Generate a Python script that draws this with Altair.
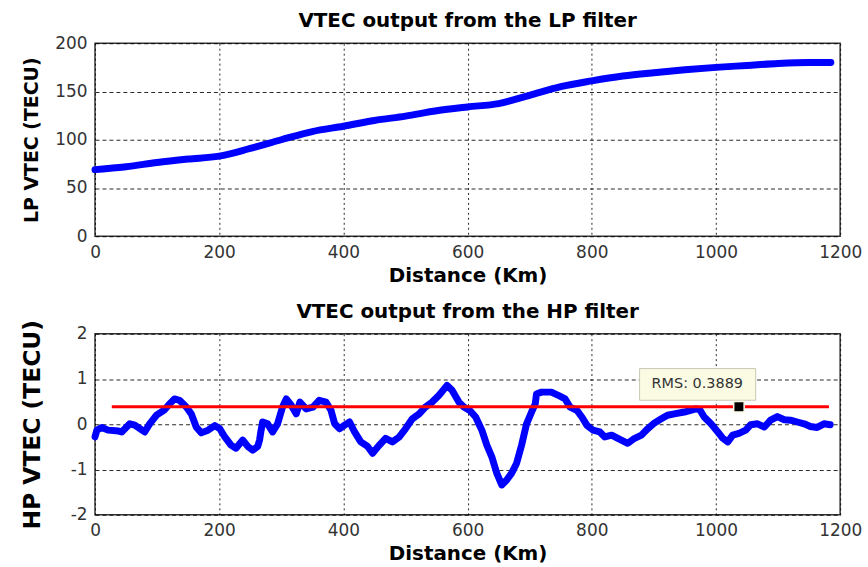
import altair as alt
import pandas as pd

# ---- data -------------------------------------------------------------
# Low-pass filtered VTEC along the track
lp_km = [0, 25, 50, 100, 150, 200, 250, 300, 350, 400, 450, 500, 550, 600,
         650, 700, 750, 800, 850, 900, 950, 1000, 1050, 1100, 1150, 1185]
lp_vtec = [69, 70.5, 72, 76.5, 80, 83, 91, 100, 108.5, 114, 120, 124.5, 130, 134,
           137.5, 146, 155, 161, 166, 169.5, 172.5, 175, 177, 179, 180, 180]

# High-pass filtered VTEC along the track
hp_km = [0, 3, 11, 21, 38, 43, 56, 64, 80, 88, 99, 112, 120, 128, 136, 147, 155,
         163, 171, 182, 193, 201, 209, 219, 227, 238, 246, 254, 262, 265, 267, 270,
         278, 286, 294, 302, 308, 316, 324, 330, 340, 351, 361, 372, 380, 386, 394,
         402, 410, 418, 428, 439, 447, 458, 468, 479, 490, 500, 511, 522, 532, 543,
         554, 567, 575, 586, 594, 604, 613, 623, 631, 639, 647, 655, 663, 671, 679,
         687, 695, 703, 709, 711, 719, 735, 746, 757, 765, 776, 784, 792, 802, 813,
         821, 832, 842, 858, 869, 880, 890, 901, 912, 922, 933, 949, 968, 974, 981,
         992, 1003, 1011, 1019, 1027, 1037, 1048, 1056, 1067, 1078, 1088, 1099, 1110,
         1120, 1131, 1142, 1152, 1163, 1174, 1184]
hp_vtec = [-0.28, -0.13, -0.07, -0.13, -0.15, -0.17, 0.01, -0.02, -0.17, 0.01, 0.2,
           0.32, 0.45, 0.56, 0.53, 0.38, 0.23, -0.06, -0.19, -0.13, -0.03, -0.1,
           -0.28, -0.46, -0.53, -0.35, -0.49, -0.57, -0.49, -0.35, -0.17, 0.05, 0.01,
           -0.17, 0.01, 0.38, 0.56, 0.42, 0.23, 0.49, 0.34, 0.38, 0.53, 0.49, 0.31,
           0.01, -0.1, -0.02, 0.05, -0.17, -0.39, -0.49, -0.64, -0.46, -0.31, -0.39,
           -0.28, -0.1, 0.12, 0.23, 0.38, 0.49, 0.64, 0.86, 0.75, 0.49, 0.38, 0.3,
           0.16, -0.13, -0.46, -0.72, -1.08, -1.34, -1.23, -1.08, -0.86, -0.46, 0.01,
           0.27, 0.45, 0.67, 0.71, 0.71, 0.64, 0.56, 0.38, 0.31, 0.16, -0.02, -0.13,
           -0.17, -0.28, -0.24, -0.31, -0.42, -0.31, -0.24, -0.1, 0.03, 0.12, 0.2,
           0.23, 0.27, 0.34, 0.32, 0.16, 0.01, -0.17, -0.31, -0.39, -0.24, -0.2,
           -0.13, -0.01, 0.01, -0.06, 0.09, 0.17, 0.1, 0.09, 0.05, 0.01, -0.05,
           -0.07, 0.01, -0.01]

# RMS reference line and its data tip
rms_value = 0.3889
rms_span_km = [27, 1182]
tip_km = 1037
tip_box_km = [877, 1064]
tip_box_vtec = [0.53, 1.23]
tip_text_pos = [970, 0.88]

x_ticks = [0, 200, 400, 600, 800, 1000, 1200]
lp_ticks = [0, 50, 100, 150, 200]
hp_ticks = [-2, -1, 0, 1, 2]

BLUE = "#0000ff"
RED = "#ff0000"
FONT = "DejaVu Sans"
W = 749

lp_df = pd.DataFrame({"km": lp_km, "vtec": lp_vtec})
hp_df = pd.DataFrame({"km": hp_km, "vtec": hp_vtec})
rms_df = pd.DataFrame({"km": [rms_span_km[0]], "km2": [rms_span_km[1]], "vtec": [rms_value]})
tip_df = pd.DataFrame({"km": [tip_km], "vtec": [rms_value]})
box_df = pd.DataFrame({"km": [tip_box_km[0]], "km2": [tip_box_km[1]],
                       "vtec": [tip_box_vtec[0]], "vtec2": [tip_box_vtec[1]]})
label_df = pd.DataFrame({"km": [tip_text_pos[0]], "vtec": [tip_text_pos[1]],
                         "text": [f"RMS: {rms_value}"]})

x_scale = alt.Scale(domain=[0, 1200], nice=False, zero=False)


def x_axis():
    return alt.X("km:Q", scale=x_scale,
                 axis=alt.Axis(values=x_ticks, title="Distance (Km)", format="d",
                               labelFlush=False))


def panel_title(text, offset):
    return alt.TitleParams(text, font=FONT, fontSize=20, fontWeight="bold",
                           offset=offset, anchor="middle", color="black")


# ---- LP panel ---------------------------------------------------------
lp_chart = alt.Chart(lp_df).mark_line(
    color=BLUE, strokeWidth=7, strokeCap="round", strokeJoin="round", interpolate="monotone"
).encode(
    x=x_axis(),
    y=alt.Y("vtec:Q", scale=alt.Scale(domain=[0, 200], nice=False),
            axis=alt.Axis(values=lp_ticks, title="LP VTEC (TECU)", titleFontSize=19,
                          titlePadding=13)),
).properties(width=W, height=194,
             title=panel_title("VTEC output from the LP filter", 3))

# ---- HP panel ---------------------------------------------------------
hp_y = alt.Scale(domain=[-2, 2], nice=False)

hp_line = alt.Chart(hp_df).mark_line(
    color=BLUE, strokeWidth=7, strokeCap="round", strokeJoin="round"
).encode(
    x=x_axis(),
    y=alt.Y("vtec:Q", scale=hp_y,
            axis=alt.Axis(values=hp_ticks, title="HP VTEC (TECU)", titleFontSize=23.5,
                          titlePadding=26, labelExpr="toString(datum.value)")),
)

rms_rule = alt.Chart(rms_df).mark_rule(color=RED, strokeWidth=3).encode(
    x="km:Q", x2="km2:Q", y="vtec:Q"
)

tip_box = alt.Chart(box_df).mark_rect(
    fill="#fbfbe4", stroke="#c8c8b4", strokeWidth=1
).encode(x="km:Q", x2="km2:Q", y="vtec:Q", y2="vtec2:Q")

tip_label = alt.Chart(label_df).mark_text(
    font=FONT, fontSize=14.5, color="#333333", align="center", baseline="middle"
).encode(x="km:Q", y="vtec:Q", text="text:N")

tip_marker = alt.Chart(tip_df).mark_point(
    shape="square", size=110, filled=True, color="black", stroke="#fbfbe4",
    strokeWidth=1.5, opacity=1
).encode(x="km:Q", y="vtec:Q")

hp_chart = alt.layer(hp_line, rms_rule, tip_box, tip_label, tip_marker).properties(
    width=W, height=182, title=panel_title("VTEC output from the HP filter", -3)
)

chart = alt.vconcat(lp_chart, hp_chart, spacing=15).properties(
    padding={"left": 19.5, "top": 9, "right": 5, "bottom": 0},
    background="white",
).configure_view(
    stroke="#333333", strokeWidth=1.5
).configure_axis(
    grid=True, gridColor="black", gridOpacity=0.85, gridWidth=1,
    domain=False, ticks=False, labelFont=FONT, labelFontSize=17,
    labelColor="#333333", titleFont=FONT, titleFontWeight="bold",
    titleColor="black", labelPadding=8,
).configure_axisX(
    gridDash=[2, 3], titlePadding=5, titleFontSize=20,
).configure_axisY(
    gridDash=[4, 3],
)

chart.save("out.html", embed_options={"renderer": "svg", "actions": False})
